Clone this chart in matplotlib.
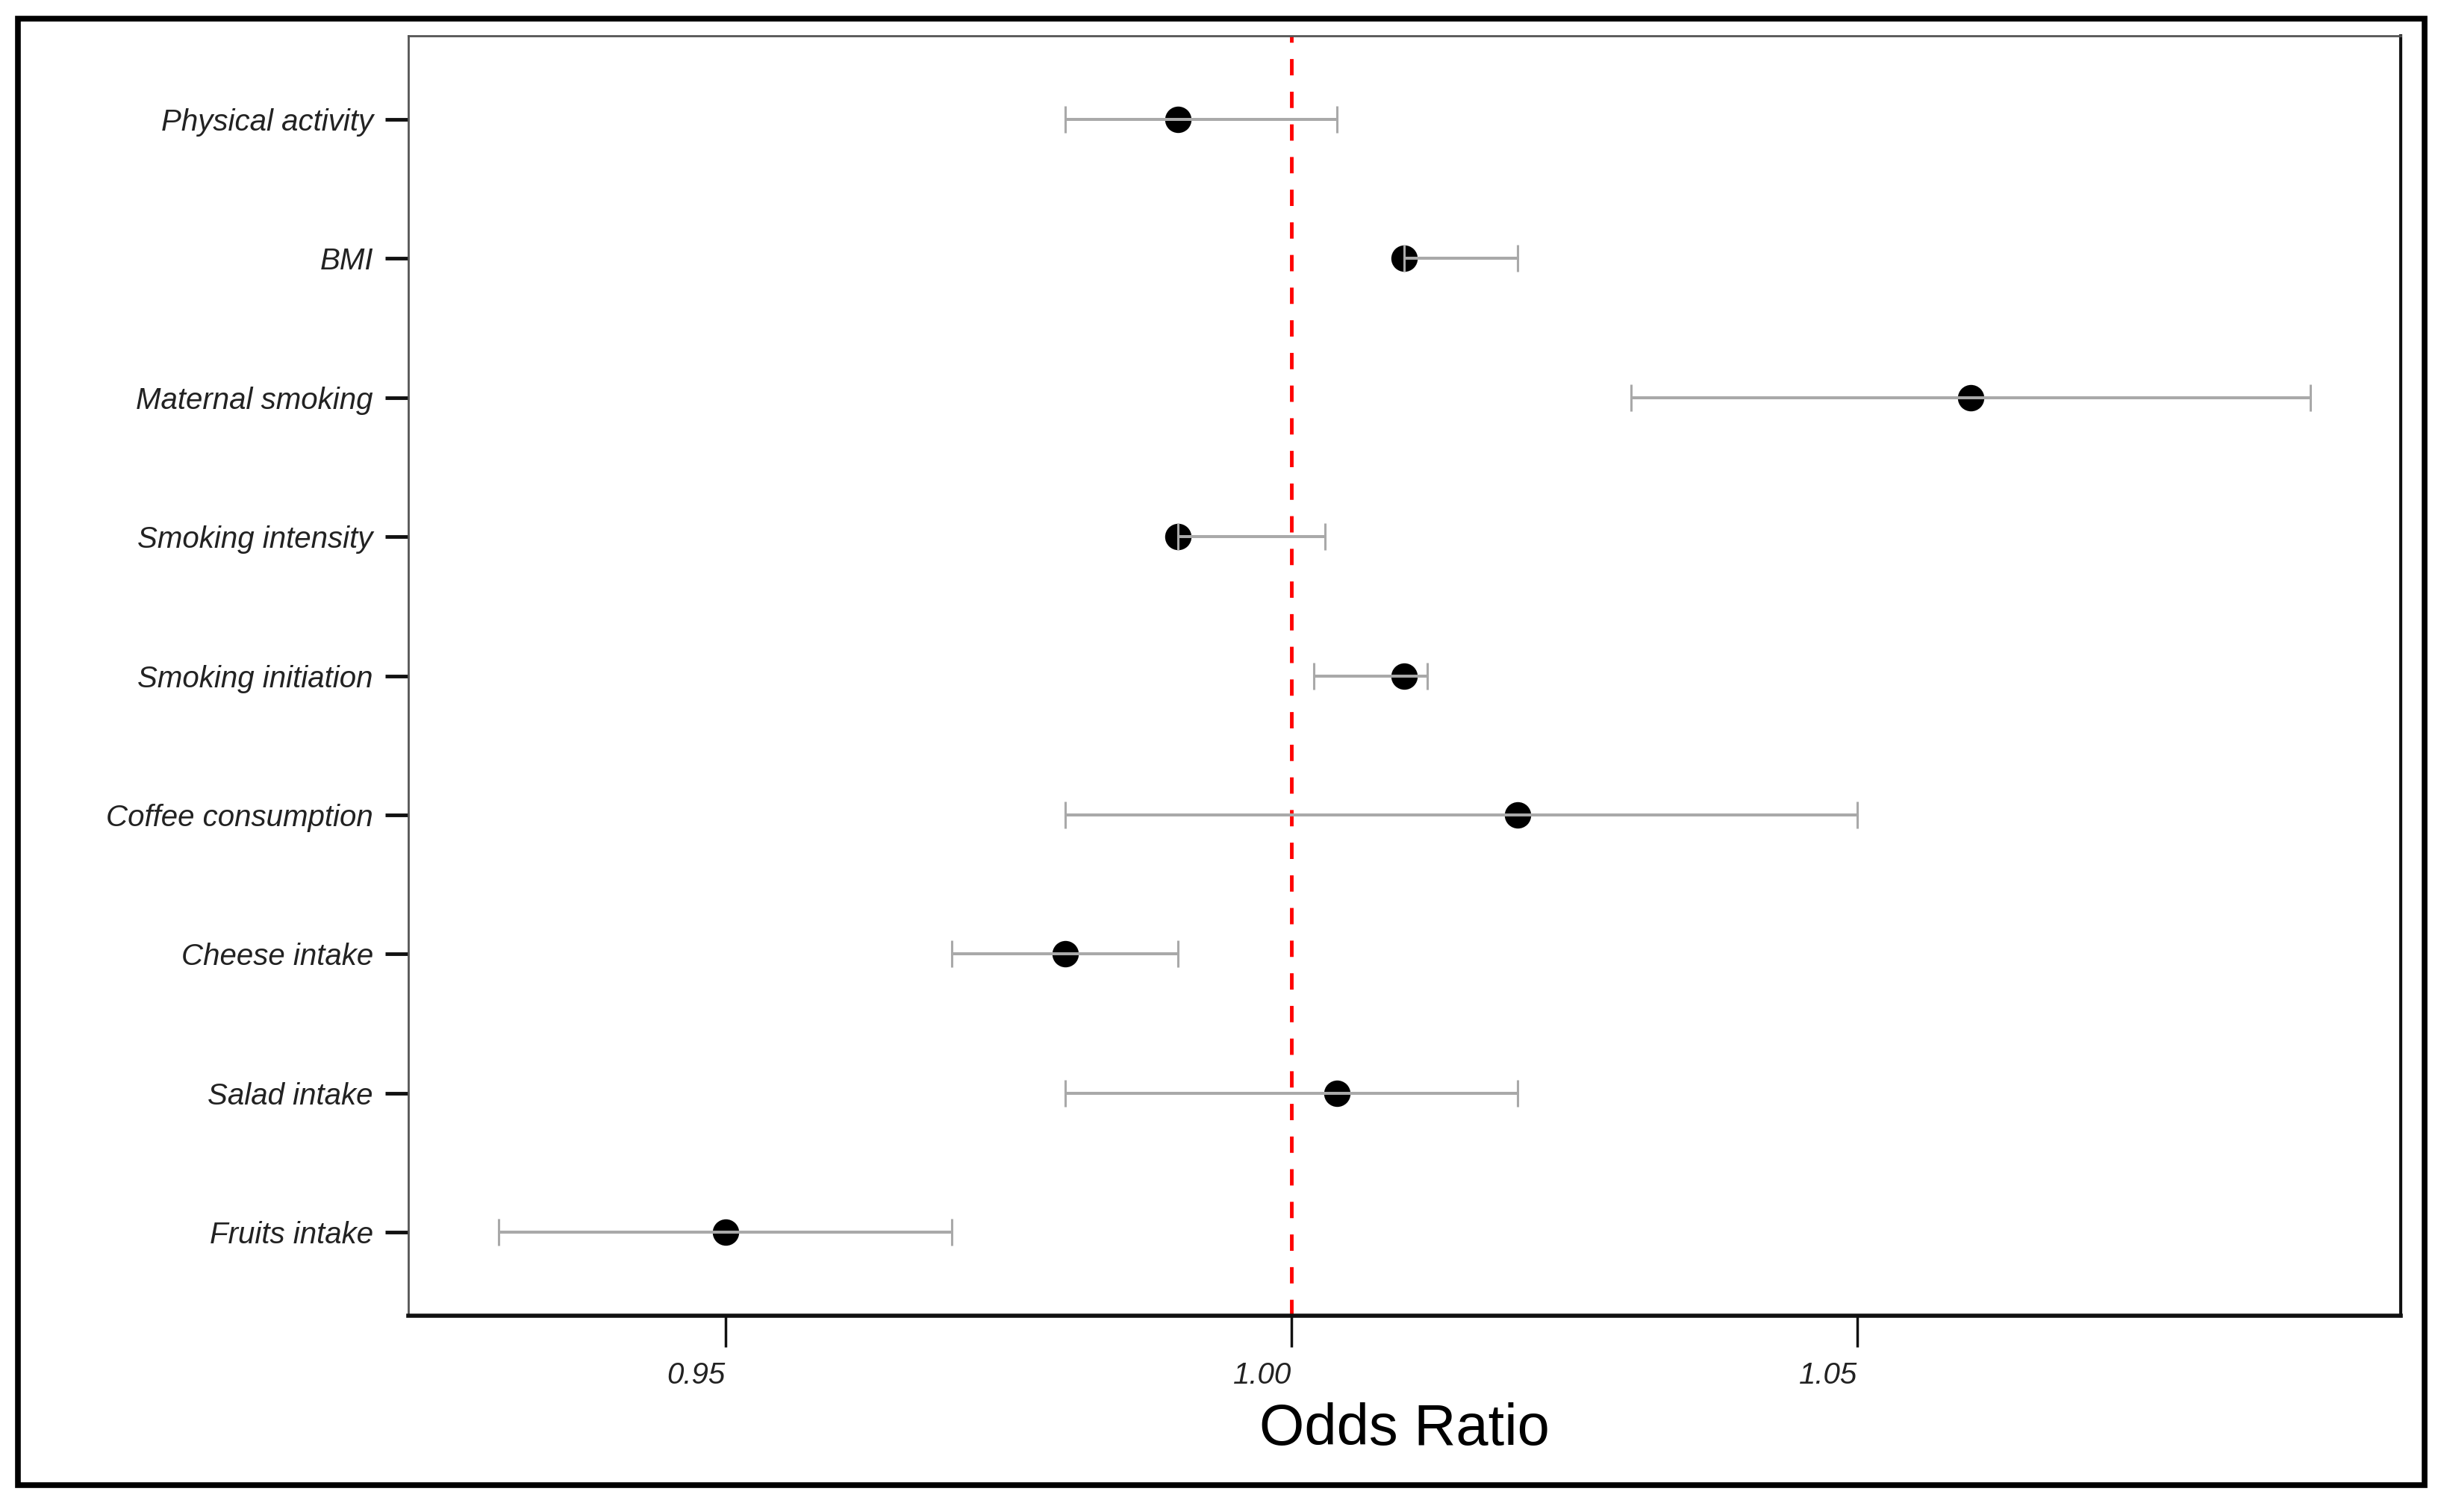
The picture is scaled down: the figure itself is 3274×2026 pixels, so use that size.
import matplotlib
matplotlib.use("Agg")
import matplotlib.pyplot as plt
from matplotlib.patches import Rectangle

categories = ["Physical activity", "BMI", "Maternal smoking", "Smoking intensity",
              "Smoking initiation", "Coffee consumption", "Cheese intake",
              "Salad intake", "Fruits intake"]
odds_ratio = [0.990, 1.010, 1.060, 0.990, 1.010, 1.020, 0.980, 1.004, 0.950]
ci_lower = [0.980, 1.010, 1.030, 0.990, 1.002, 0.980, 0.970, 0.980, 0.930]
ci_upper = [1.004, 1.020, 1.090, 1.003, 1.012, 1.050, 0.990, 1.020, 0.970]
x_ticks = [0.95, 1.00, 1.05]
x_tick_labels = ["0.95", "1.00", "1.05"]

W, H, DPI = 3274, 2026, 100
fig = plt.figure(figsize=(W / DPI, H / DPI), dpi=DPI)
fig.patch.set_facecolor("white")

# axes placement (pixels -> fractions)
ax_l, ax_r, ax_t, ax_b = 547, 3216, 48, 1763
ax = fig.add_axes([ax_l / W, 1 - ax_b / H, (ax_r - ax_l) / W, (ax_b - ax_t) / H])

n = len(categories)
ypos = list(range(n, 0, -1))

ax.plot(odds_ratio, ypos, linestyle="none", marker="o", ms=25.5, color="black",
        markeredgewidth=0, zorder=3)
xerr = [[o - lo for o, lo in zip(odds_ratio, ci_lower)],
        [hi - o for o, hi in zip(odds_ratio, ci_upper)]]
ax.errorbar(odds_ratio, ypos, xerr=xerr, fmt="none", ecolor="#a9a9a9",
            elinewidth=2.9, capsize=13, capthick=2.2, zorder=4)

ax.axvline(1.0, color="#ff0000", lw=3.5, dashes=(4.5, 4.5), zorder=2)

x_min = min(ci_lower)
x_max = max(ci_upper)
pad = (x_max - x_min) * 0.05
ax.set_xlim(x_min - pad, x_max + pad)
ax.set_ylim(0.4, n + 0.6)

ax.set_yticks(ypos)
ax.set_yticklabels(categories, family="Liberation Sans", style="italic",
                   fontsize=29, color="#222222")
ax.set_xticks(x_ticks)
ax.set_xticklabels(x_tick_labels, family="Liberation Sans", style="italic",
                   fontsize=29, color="#222222", ha="right")
ax.tick_params(axis="y", length=22, width=3.5, color="#111111", pad=12)
ax.tick_params(axis="x", length=30, width=2.5, color="#111111", pad=14)

ax.set_xlabel("Odds Ratio", family="Liberation Sans", fontsize=56, color="black",
              labelpad=12)

ax.spines["left"].set_color("#555555")
ax.spines["left"].set_linewidth(2)
ax.spines["top"].set_color("#555555")
ax.spines["top"].set_linewidth(2)
ax.spines["bottom"].set_color("#111111")
ax.spines["bottom"].set_linewidth(4)
ax.spines["right"].set_color("#111111")
ax.spines["right"].set_linewidth(3)

# outer frame
fl, fr, ft, fb = 24, 3248, 25, 1990
fig.patches.append(Rectangle((fl / W, 1 - fb / H), (fr - fl) / W, (fb - ft) / H,
                             transform=fig.transFigure, fill=False,
                             edgecolor="black", linewidth=5.5))

fig.savefig("out.png", dpi=DPI, facecolor="white")
